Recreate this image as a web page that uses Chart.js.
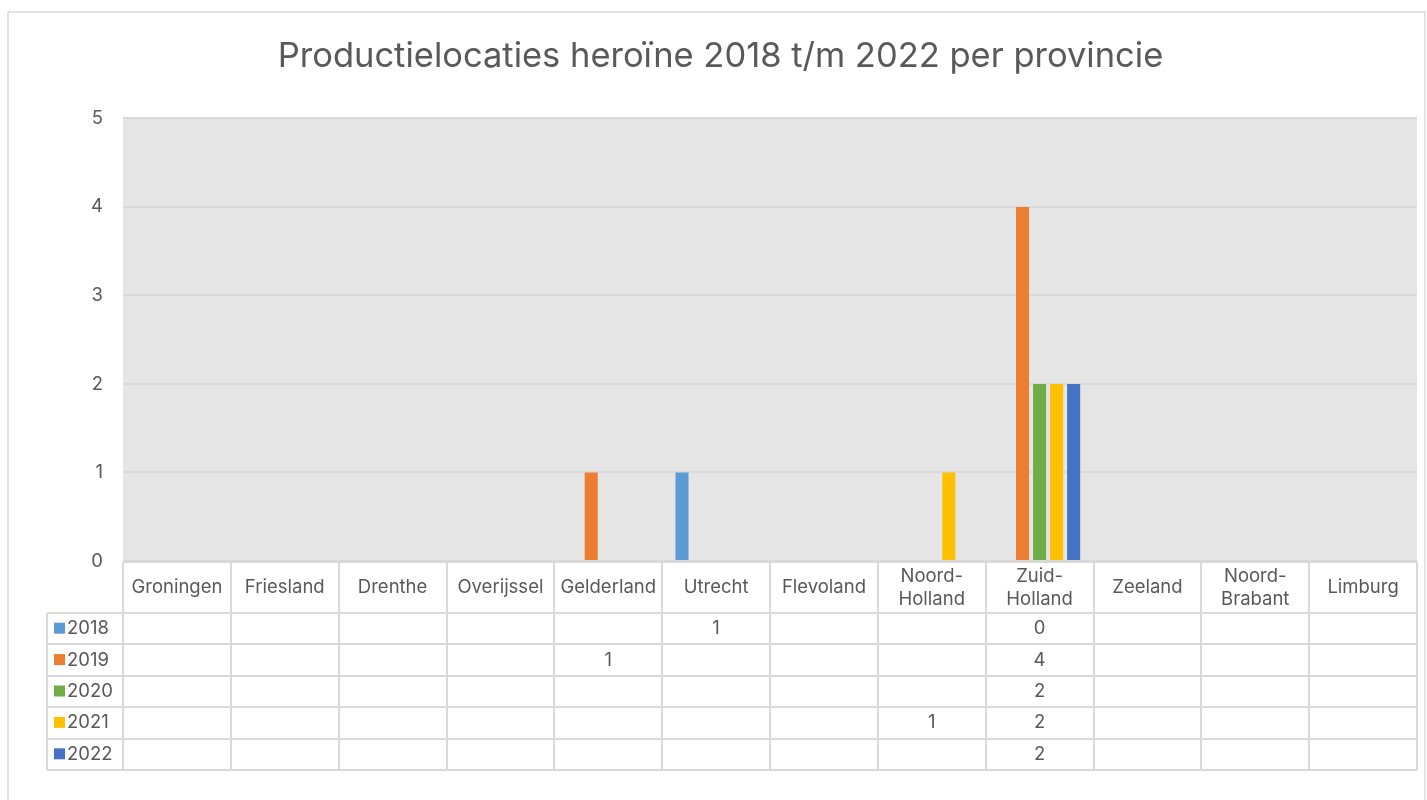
<!DOCTYPE html>
<html>
<head>
<meta charset="utf-8">
<script src="https://cdn.jsdelivr.net/npm/chart.js@4"></script>
<style>
  html, body { margin: 0; padding: 0; background: #fff; }
  #wrap { width: 1427px; height: 800px; }
</style>
</head>
<body>
<div id="wrap"><canvas id="heroineChart" width="1427" height="800"></canvas></div>
<script>
// provinces (multi-line labels as arrays, like in the Excel table header)
const provinces = ['Groningen', 'Friesland', 'Drenthe', 'Overijssel', 'Gelderland', 'Utrecht',
    'Flevoland', ['Noord-', 'Holland'], ['Zuid-', 'Holland'], 'Zeeland', ['Noord-', 'Brabant'], 'Limburg'];
const years = ['2018', '2019', '2020', '2021', '2022'];
const values2018 = [null, null, null, null, null, 1, null, null, 0, null, null, null];
const values2019 = [null, null, null, null, 1, null, null, null, 4, null, null, null];
const values2020 = [null, null, null, null, null, null, null, null, 2, null, null, null];
const values2021 = [null, null, null, null, null, null, null, 1, 2, null, null, null];
const values2022 = [null, null, null, null, null, null, null, null, 2, null, null, null];
const yTicks = [0, 1, 2, 3, 4, 5];
const yearColors = ['#5B9BD5', '#ED7D31', '#70AD47', '#FFC000', '#4472C4'];

const FONT = "Inter, 'Noto Sans', sans-serif";
const TEXT = '#595959';
const LINE = '#D9D9D9';

const seriesValues = [values2018, values2019, values2020, values2021, values2022];

// grey plot background + outer border
const frame = {
    id: 'frame',
    beforeDraw(chart) {
        const { ctx, chartArea: a } = chart;
        ctx.save();
        ctx.fillStyle = '#fff';
        ctx.fillRect(0, 0, chart.width, chart.height);
        ctx.strokeStyle = LINE;
        ctx.lineWidth = 1.5;
        ctx.strokeRect(8, 12, 1417, 800);
        ctx.fillStyle = '#E5E5E5';
        ctx.fillRect(a.left, a.top, a.right - a.left, a.bottom - a.top);
        ctx.restore();
    }
};

// Excel style data table under the plot
const dataTable = {
    id: 'dataTable',
    afterDraw(chart) {
        const { ctx, chartArea: a } = chart;
        const x = chart.scales.x;
        const half = (x.getPixelForValue(1) - x.getPixelForValue(0)) / 2;
        const headTop = a.bottom + 1;
        const headBottom = headTop + 51;
        const rowH = 31.4;
        const legendLeft = 47;
        const tableBottom = headBottom + rowH * years.length;

        ctx.save();
        ctx.strokeStyle = LINE;
        ctx.lineWidth = 2;
        ctx.beginPath();
        // vertical lines
        for (let i = 0; i <= provinces.length; i++) {
            const px = Math.round(x.getPixelForValue(0) - half + i * half * 2);
            ctx.moveTo(px, headTop);
            ctx.lineTo(px, tableBottom);
        }
        ctx.moveTo(legendLeft, headBottom);
        ctx.lineTo(legendLeft, tableBottom);
        // horizontal lines
        ctx.moveTo(a.left, headTop);
        ctx.lineTo(a.right, headTop);
        for (let r = 0; r <= years.length; r++) {
            const py = Math.round(headBottom + r * rowH);
            ctx.moveTo(legendLeft, py);
            ctx.lineTo(a.right, py);
        }
        ctx.stroke();

        ctx.fillStyle = TEXT;
        ctx.font = '18.5px ' + FONT;
        ctx.textAlign = 'center';
        ctx.textBaseline = 'middle';
        provinces.forEach((p, i) => {
            const cx = x.getPixelForValue(i);
            const lines = Array.isArray(p) ? p : [p];
            const mid = (headTop + headBottom) / 2;
            lines.forEach((t, k) => {
                ctx.fillText(t, cx, mid + (k - (lines.length - 1) / 2) * 23);
            });
        });

        years.forEach((yr, r) => {
            const cy = headBottom + r * rowH + rowH / 2;
            ctx.fillStyle = yearColors[r];
            ctx.fillRect(54, cy - 6, 11, 11);
            ctx.fillStyle = TEXT;
            ctx.textAlign = 'left';
            ctx.fillText(yr, 67, cy);
            ctx.textAlign = 'center';
            seriesValues[r].forEach((v, i) => {
                if (v !== null) ctx.fillText(String(v), x.getPixelForValue(i), cy);
            });
        });
        ctx.restore();
    }
};

new Chart(document.getElementById('heroineChart'), {
    type: 'bar',
    data: {
        labels: provinces,
        datasets: years.map((yr, i) => ({
            label: yr,
            data: seriesValues[i],
            backgroundColor: yearColors[i],
            borderWidth: 0,
            categoryPercentage: 0.79,
            barPercentage: 0.765
        }))
    },
    options: {
        responsive: false,
        animation: false,
        layout: { padding: { left: 24, right: 10, top: 0, bottom: 0 } },
        plugins: {
            legend: { display: false },
            tooltip: { enabled: false },
            title: {
                display: true,
                text: 'Productielocaties heroïne 2018 t/m 2022 per provincie',
                color: TEXT,
                font: { family: FONT, size: 34.5, weight: 'normal' },
                padding: { top: 36, bottom: 41 }
            }
        },
        scales: {
            x: {
                ticks: { display: false },
                grid: { display: false },
                border: { display: false },
                afterFit: (scale) => { scale.height = 239; }
            },
            y: {
                min: yTicks[0],
                max: yTicks[yTicks.length - 1],
                afterBuildTicks: (scale) => { scale.ticks = yTicks.map(v => ({ value: v })); },
                ticks: {
                    color: TEXT,
                    font: { family: FONT, size: 18.5 },
                    padding: 20
                },
                grid: { color: LINE, lineWidth: 2, drawTicks: false },
                border: { display: false },
                afterFit: (scale) => { scale.width = 99; }
            }
        }
    },
    plugins: [frame, dataTable]
});
</script>
</body>
</html>
